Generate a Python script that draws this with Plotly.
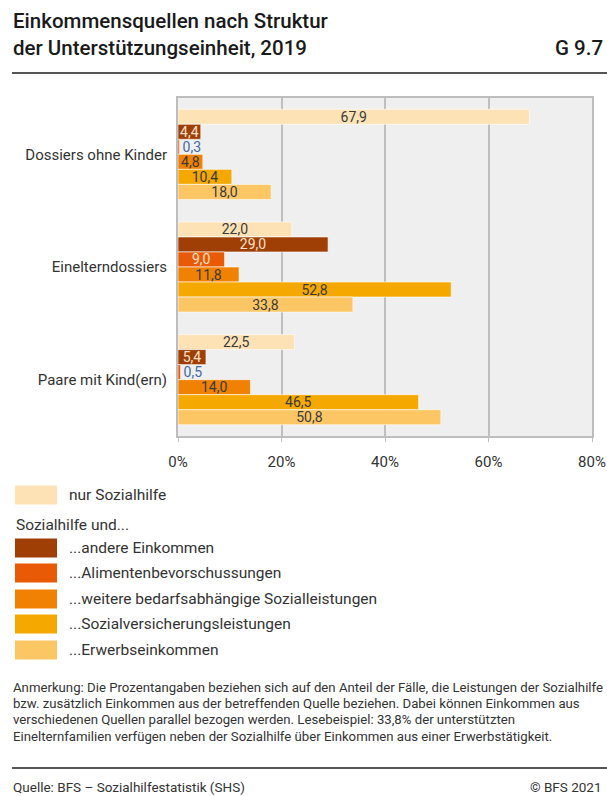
import plotly.graph_objects as go

# categories (top to bottom)
kategorien = ["Dossiers ohne Kinder", "Einelterndossiers", "Paare mit Kind(ern)"]

# series values in %
nur_sozialhilfe = [67.9, 22.0, 22.5]
andere_einkommen = [4.4, 29.0, 5.4]
alimente = [0.3, 9.0, 0.5]
bedarfsabh = [4.8, 11.8, 14.0]
sozialvers = [10.4, 52.8, 46.5]
erwerb = [18.0, 33.8, 50.8]

namen = ["nur Sozialhilfe", "...andere Einkommen", "...Alimentenbevorschussungen",
         "...weitere bedarfsabhängige Sozialleistungen", "...Sozialversicherungsleistungen",
         "...Erwerbseinkommen"]
farben = ["#fde2b6", "#9f3f06", "#e85a05", "#f08102", "#f5a800", "#fcc665"]

x_ticks = [0, 20, 40, 60, 80]
x_ticktext = ["0%", "20%", "40%", "60%", "80%"]

W, H = 607, 796
L, R, T, B = 178, 15, 98, 360
pw, ph = W - L - R, H - T - B


def px_x(x):
    return (x - L) / pw


def px_y(y):
    return 1 - (y - T) / ph


dunkel = "#3a3a3a"
hell = "#fbe0cc"
blau = "#3f6aa8"
txt = "#333333"

serien = [nur_sozialhilfe, andere_einkommen, alimente, bedarfsabh, sozialvers, erwerb]

fig = go.Figure()
for i, (name, vals, col) in enumerate(zip(namen, serien, farben)):
    pos = ["outside" if v < 1 else "inside" for v in vals]
    if i == 1:
        tcol = [hell] * len(vals)
    elif i == 2:
        tcol = [blau if v < 1 else hell for v in vals]
    else:
        tcol = [dunkel] * len(vals)
    fig.add_trace(go.Bar(
        y=kategorien, x=vals, name=name, orientation="h",
        marker=dict(color=col, line=dict(color="white", width=0.6)),
        text=vals, texttemplate="%{x:.1f}", textposition=pos,
        insidetextanchor="middle", constraintext="none",
        textfont=dict(color=tcol, size=14, family="Roboto"),
        cliponaxis=False, showlegend=False,
    ))

fig.update_layout(
    width=W, height=H,
    margin=dict(l=L, r=R, t=T, b=B),
    barmode="group", bargap=0.2, bargroupgap=0,
    separators=",.",
    paper_bgcolor="white", plot_bgcolor="#efefef",
    font=dict(family="Roboto", color=txt, size=15),
)
fig.update_xaxes(
    range=[0, 80], tickvals=x_ticks, ticktext=x_ticktext, automargin=False,
    showgrid=True, gridcolor="#bfbfbf", gridwidth=1.6,
    showline=True, linecolor="#bdbdbd", linewidth=2, mirror=True,
    ticks="outside", ticklen=4, tickcolor="#bdbdbd",
    ticklabelstandoff=7, zeroline=False,
    tickfont=dict(size=15, color=txt),
)
fig.update_yaxes(
    autorange="reversed", showgrid=False, automargin=False,
    showline=True, linecolor="#bdbdbd", linewidth=2, mirror=True,
    ticks="", ticklabelstandoff=6,
    tickfont=dict(size=15, color=txt),
)

ann = []
shapes = []

# title
ann.append(dict(text="Einkommensquellen nach Struktur<br>der Unterstützungseinheit, 2019",
                x=px_x(11), y=px_y(7), xanchor="left", yanchor="top", align="left",
                font=dict(size=20.5, color="#1a1a1a", family="Roboto", weight=500)))
ann.append(dict(text="G 9.7", x=px_x(605), y=px_y(48), xanchor="right", yanchor="middle",
                font=dict(size=20.5, color="#1a1a1a", family="Roboto", weight=500)))
shapes.append(dict(type="line", xref="paper", yref="paper", x0=px_x(12), x1=px_x(607),
                   y0=px_y(73), y1=px_y(73), line=dict(color="#555555", width=2)))

# legend
leg_y = [495, 548, 573, 599, 624, 650]
for name, col, yy in zip(namen, farben, leg_y):
    shapes.append(dict(type="rect", xref="paper", yref="paper",
                       x0=px_x(15), x1=px_x(57), y0=px_y(yy - 9.5), y1=px_y(yy + 9.5),
                       fillcolor=col, line=dict(color=col, width=0)))
    ann.append(dict(text=name, x=px_x(67), y=px_y(yy), xanchor="left", yanchor="middle",
                    font=dict(size=15.5, color=txt)))
ann.append(dict(text="Sozialhilfe und...", x=px_x(14), y=px_y(525), xanchor="left",
                yanchor="middle", font=dict(size=15.5, color=txt)))

# note
noten = [
    "Anmerkung: Die Prozentangaben beziehen sich auf den Anteil der Fälle, die Leistungen der Sozialhilfe",
    "bzw. zusätzlich Einkommen aus der betreffenden Quelle beziehen. Dabei können Einkommen aus",
    "verschiedenen Quellen parallel bezogen werden. Lesebeispiel: 33,8% der unterstützten",
    "Einelternfamilien verfügen neben der Sozialhilfe über Einkommen aus einer Erwerbstätigkeit.",
]
for k, t in enumerate(noten):
    ann.append(dict(text=t, x=px_x(11), y=px_y(687 + 16.4 * k), xanchor="left", yanchor="middle",
                    font=dict(size=13.2, color=txt)))
shapes.append(dict(type="line", xref="paper", yref="paper", x0=px_x(12), x1=px_x(607),
                   y0=px_y(768), y1=px_y(768), line=dict(color="#555555", width=2)))
ann.append(dict(text="Quelle: BFS – Sozialhilfestatistik (SHS)", x=px_x(11), y=px_y(787),
                xanchor="left", yanchor="middle", font=dict(size=13.5, color=txt)))
ann.append(dict(text="© BFS 2021", x=px_x(604), y=px_y(787),
                xanchor="right", yanchor="middle", font=dict(size=13.5, color=txt)))

for a in ann:
    a.update(xref="paper", yref="paper", showarrow=False)
fig.update_layout(annotations=ann, shapes=shapes)

fig.write_html("out.html", config={"displayModeBar": False},
               post_script="document.body.style.margin='0';document.body.style.overflow='hidden';")
